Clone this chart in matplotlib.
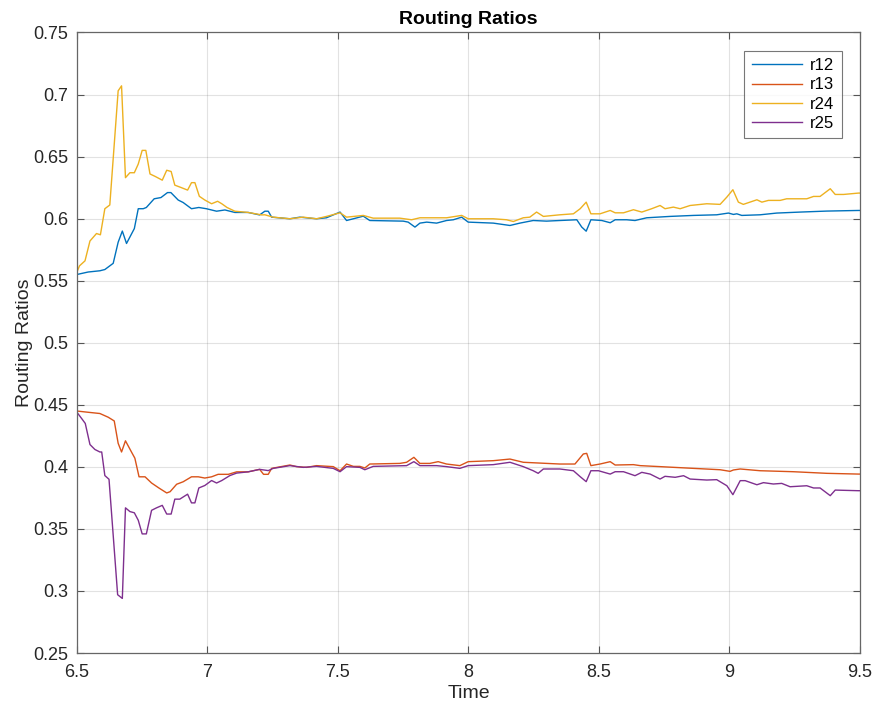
import numpy as np
import matplotlib.pyplot as plt

t_r12 = [6.500, 6.543, 6.588, 6.607, 6.639, 6.658, 6.674, 6.690, 6.720, 6.735, 6.754, 6.766,
         6.796, 6.822, 6.847, 6.860, 6.888, 6.907, 6.939, 6.967, 6.996, 7.035, 7.067, 7.105,
         7.156, 7.200, 7.220, 7.233, 7.246, 7.316, 7.354, 7.418, 7.456, 7.508, 7.533, 7.559,
         7.597, 7.622, 7.750, 7.769, 7.795, 7.814, 7.840, 7.878, 7.916, 7.942, 7.974, 7.999,
         8.095, 8.159, 8.197, 8.248, 8.299, 8.350, 8.415, 8.434, 8.451, 8.469, 8.511, 8.543,
         8.562, 8.606, 8.638, 8.683, 8.772, 8.862, 8.951, 8.996, 9.015, 9.028, 9.047, 9.117,
         9.181, 9.271, 9.373, 9.494, 9.500]
r12 = [0.555, 0.557, 0.558, 0.559, 0.564, 0.581, 0.590, 0.580, 0.592, 0.608, 0.608, 0.609,
       0.616, 0.617, 0.621, 0.621, 0.615, 0.613, 0.608, 0.609, 0.608, 0.606, 0.607, 0.605,
       0.605, 0.603, 0.606, 0.606, 0.6012, 0.5999, 0.6012, 0.5999, 0.6007, 0.6053, 0.5985, 0.5999,
       0.6020, 0.5985, 0.5980, 0.5972, 0.5932, 0.5964, 0.5972, 0.5964, 0.5985, 0.5991, 0.6012, 0.5972,
       0.5964, 0.5945, 0.5964, 0.5985, 0.5980, 0.5985, 0.5991, 0.5932, 0.5899, 0.5991, 0.5985, 0.5967,
       0.5991, 0.5991, 0.5985, 0.6007, 0.6018, 0.6026, 0.6031, 0.6045, 0.6034, 0.6039, 0.6026, 0.6031,
       0.6045, 0.6053, 0.6061, 0.6066, 0.6066]

t_r13 = [6.500, 6.543, 6.588, 6.620, 6.643, 6.658, 6.671, 6.686, 6.709, 6.722, 6.738, 6.761,
         6.786, 6.814, 6.844, 6.857, 6.882, 6.907, 6.939, 6.965, 6.990, 7.016, 7.041, 7.080,
         7.112, 7.156, 7.200, 7.215, 7.233, 7.246, 7.316, 7.341, 7.380, 7.418, 7.482, 7.508,
         7.533, 7.559, 7.584, 7.603, 7.622, 7.737, 7.763, 7.791, 7.814, 7.852, 7.884, 7.916,
         7.967, 7.999, 8.095, 8.159, 8.210, 8.350, 8.408, 8.440, 8.453, 8.469, 8.504, 8.543,
         8.562, 8.632, 8.658, 8.734, 8.862, 8.964, 9.002, 9.015, 9.041, 9.117, 9.245, 9.373,
         9.494, 9.500]
r13 = [0.445, 0.444, 0.443, 0.440, 0.437, 0.419, 0.412, 0.421, 0.412, 0.407, 0.392, 0.392,
       0.387, 0.383, 0.379, 0.380, 0.386, 0.388, 0.392, 0.392, 0.391, 0.392, 0.394, 0.394,
       0.396, 0.396, 0.398, 0.394, 0.394, 0.3988, 0.4015, 0.4002, 0.3996, 0.4010, 0.4002, 0.3969,
       0.4023, 0.4004, 0.4004, 0.3991, 0.4023, 0.4028, 0.4037, 0.4077, 0.4028, 0.4028, 0.4042, 0.4023,
       0.4010, 0.4042, 0.4050, 0.4063, 0.4037, 0.4023, 0.4023, 0.4104, 0.4109, 0.4010, 0.4023, 0.4042,
       0.4015, 0.4018, 0.4010, 0.4002, 0.3988, 0.3977, 0.3964, 0.3975, 0.3983, 0.3969, 0.3961, 0.3948,
       0.3942, 0.3942]

t_r24 = [6.500, 6.510, 6.531, 6.550, 6.575, 6.590, 6.607, 6.626, 6.658, 6.671, 6.686, 6.703,
         6.720, 6.735, 6.750, 6.764, 6.780, 6.800, 6.827, 6.844, 6.861, 6.875, 6.900, 6.924,
         6.939, 6.952, 6.969, 6.990, 7.016, 7.039, 7.055, 7.075, 7.105, 7.156, 7.208, 7.220,
         7.252, 7.316, 7.367, 7.418, 7.456, 7.508, 7.533, 7.597, 7.635, 7.737, 7.782, 7.814,
         7.916, 7.974, 7.999, 8.095, 8.146, 8.172, 8.210, 8.235, 8.261, 8.287, 8.350, 8.402,
         8.428, 8.451, 8.469, 8.504, 8.543, 8.562, 8.594, 8.632, 8.664, 8.702, 8.734, 8.753,
         8.785, 8.811, 8.849, 8.913, 8.964, 8.990, 9.013, 9.034, 9.053, 9.105, 9.124, 9.149,
         9.194, 9.219, 9.271, 9.296, 9.322, 9.347, 9.386, 9.405, 9.437, 9.494, 9.500]
r24 = [0.557, 0.562, 0.566, 0.582, 0.588, 0.587, 0.608, 0.611, 0.703, 0.707, 0.633, 0.637,
       0.637, 0.644, 0.655, 0.655, 0.636, 0.634, 0.631, 0.639, 0.638, 0.627, 0.625, 0.623,
       0.629, 0.629, 0.618, 0.615, 0.612, 0.614, 0.612, 0.609, 0.606, 0.605, 0.603, 0.6031,
       0.6012, 0.5999, 0.6012, 0.5999, 0.6018, 0.6047, 0.6012, 0.6026, 0.6004, 0.6004, 0.5991, 0.6007,
       0.6007, 0.6026, 0.5999, 0.5999, 0.5991, 0.5977, 0.6007, 0.6012, 0.6053, 0.6018, 0.6031, 0.6039,
       0.6080, 0.6133, 0.6039, 0.6039, 0.6066, 0.6047, 0.6047, 0.6072, 0.6053, 0.6080, 0.6106, 0.6080,
       0.6093, 0.6080, 0.6106, 0.6120, 0.6115, 0.6174, 0.6233, 0.6133, 0.6115, 0.6152, 0.6133, 0.6147,
       0.6147, 0.6160, 0.6160, 0.6160, 0.6179, 0.6179, 0.6241, 0.6195, 0.6195, 0.6206, 0.6206]

t_r25 = [6.500, 6.518, 6.532, 6.550, 6.569, 6.588, 6.595, 6.607, 6.623, 6.656, 6.674, 6.686,
         6.703, 6.720, 6.735, 6.750, 6.766, 6.786, 6.805, 6.827, 6.844, 6.861, 6.875, 6.894,
         6.924, 6.939, 6.952, 6.967, 6.990, 7.016, 7.035, 7.055, 7.086, 7.112, 7.156, 7.200,
         7.233, 7.252, 7.316, 7.367, 7.418, 7.482, 7.508, 7.533, 7.584, 7.603, 7.635, 7.763,
         7.791, 7.814, 7.878, 7.916, 7.967, 7.999, 8.095, 8.159, 8.210, 8.248, 8.267, 8.287,
         8.350, 8.402, 8.428, 8.451, 8.469, 8.498, 8.543, 8.562, 8.594, 8.638, 8.664, 8.696,
         8.734, 8.753, 8.792, 8.824, 8.849, 8.913, 8.951, 8.990, 9.013, 9.041, 9.060, 9.105,
         9.130, 9.168, 9.200, 9.232, 9.296, 9.322, 9.347, 9.386, 9.405, 9.494, 9.500]
r25 = [0.444, 0.439, 0.435, 0.418, 0.414, 0.412, 0.412, 0.393, 0.390, 0.297, 0.294, 0.367,
       0.364, 0.363, 0.357, 0.346, 0.346, 0.365, 0.367, 0.369, 0.362, 0.362, 0.374, 0.374,
       0.378, 0.371, 0.371, 0.383, 0.385, 0.389, 0.387, 0.389, 0.393, 0.395, 0.396, 0.398,
       0.397, 0.3988, 0.4010, 0.3996, 0.4004, 0.3988, 0.3961, 0.4002, 0.3996, 0.3977, 0.4004, 0.4010,
       0.4042, 0.4010, 0.4010, 0.4002, 0.3988, 0.4010, 0.4018, 0.4037, 0.4002, 0.3969, 0.3948, 0.3983,
       0.3983, 0.3969, 0.3921, 0.3881, 0.3969, 0.3969, 0.3942, 0.3961, 0.3961, 0.3929, 0.3956, 0.3942,
       0.3902, 0.3924, 0.3916, 0.3929, 0.3902, 0.3894, 0.3897, 0.3848, 0.3776, 0.3889, 0.3889, 0.3856,
       0.3873, 0.3862, 0.3867, 0.3840, 0.3848, 0.3830, 0.3830, 0.3768, 0.3813, 0.3808, 0.3808]

labels = ['r12', 'r13', 'r24', 'r25']
colors = ['#0072BD', '#D95319', '#EDB120', '#7E2F8E']

plt.rcParams['font.family'] = ['Liberation Sans', 'DejaVu Sans']

fig = plt.figure(figsize=(8.74, 7.06), dpi=100)
ax = fig.add_axes([0.088, 0.075, 0.896, 0.879])

for t, r, lab, c in zip([t_r12, t_r13, t_r24, t_r25], [r12, r13, r24, r25], labels, colors):
    ax.plot(t, r, color=c, lw=1.0, label=lab)

ax.set_xlim(6.5, 9.5)
ax.set_ylim(0.25, 0.75)
ax.set_xticks([6.5, 7, 7.5, 8, 8.5, 9, 9.5])
ax.set_xticklabels(['6.5', '7', '7.5', '8', '8.5', '9', '9.5'])
ax.set_yticks(np.arange(0.25, 0.751, 0.05))
ax.set_yticklabels(['0.25', '0.3', '0.35', '0.4', '0.45', '0.5', '0.55', '0.6', '0.65', '0.7', '0.75'])
ax.grid(True, color='#262626', alpha=0.13, lw=0.8)
ax.tick_params(direction='in', top=True, right=True, labelsize=13, labelcolor='#262626',
               color='#555555', length=5)
ax.tick_params(axis='x', pad=8)
ax.tick_params(axis='y', pad=6)
for s in ax.spines.values():
    s.set_color('#666666')
    s.set_linewidth(0.9)

ax.set_title('Routing Ratios', fontsize=14, fontweight='bold', pad=6)
ax.set_xlabel('Time', fontsize=14, color='#262626', labelpad=3)
ax.set_ylabel('Routing Ratios', fontsize=14, color='#262626', labelpad=0)

leg = ax.legend(loc='upper right', fontsize=12, frameon=True, fancybox=False,
                edgecolor='#555555', handlelength=3.0, borderaxespad=1.1,
                labelspacing=0.25, borderpad=0.45, handletextpad=0.5)
leg.get_frame().set_linewidth(0.8)

fig.savefig('out.png', dpi=100)
